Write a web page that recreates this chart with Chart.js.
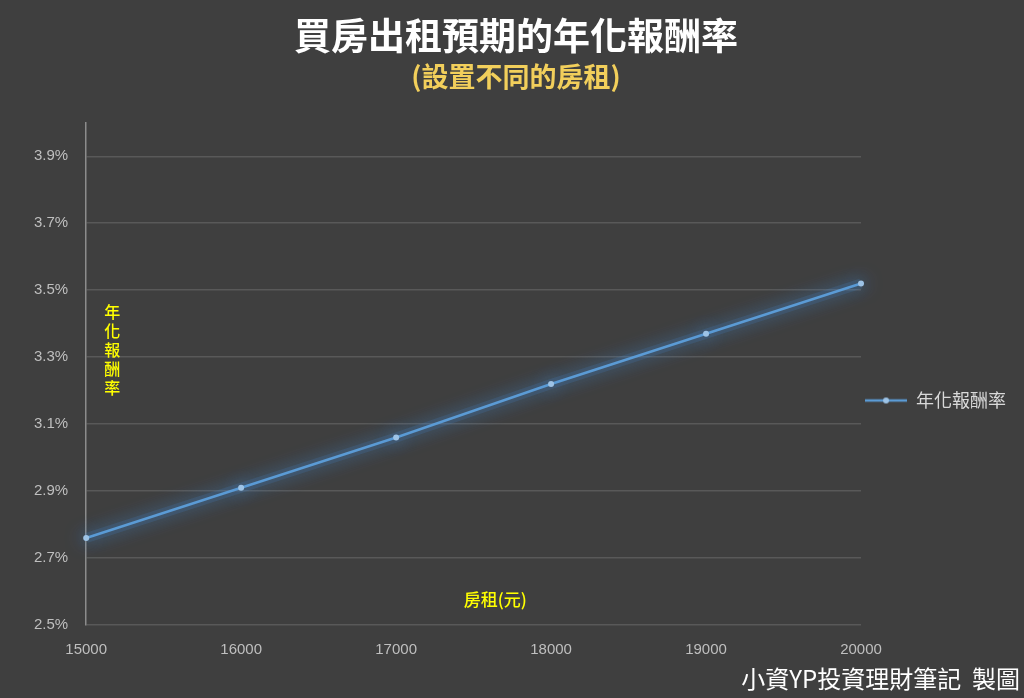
<!DOCTYPE html>
<html lang="zh-Hant">
  <head>
    <meta charset="UTF-8" />
    <title>買房出租預期的年化報酬率</title>
    <script src="https://cdn.jsdelivr.net/npm/chart.js"></script>
    <style>
      html, body { margin: 0; padding: 0; background: #3f3f3f; }
      .Wrap { width: 1024px; height: 698px; position: relative; }
    </style>
  </head>
  <body>
    <div class="Wrap">
      <canvas id="lineChart"></canvas>
    </div>
    <script>
      // rent (NTD) and annual return (%)
      const rents = [15000, 16000, 17000, 18000, 19000, 20000];
      const annualReturn = [2.76, 2.91, 3.06, 3.22, 3.37, 3.52];
      const yTicks = [2.5, 2.7, 2.9, 3.1, 3.3, 3.5, 3.7, 3.9];
      const xTicks = [15000, 16000, 17000, 18000, 19000, 20000];

      const CJK = "'Noto Sans CJK TC', 'Noto Sans', sans-serif";
      const NUM = "'Liberation Sans Narrow', 'Liberation Sans', sans-serif";

      // legend marker: line with a dot in the middle
      const marker = document.createElement("canvas");
      marker.width = 42;
      marker.height = 10;
      const m = marker.getContext("2d");
      m.strokeStyle = "#5b9bd5";
      m.lineWidth = 2.5;
      m.beginPath();
      m.moveTo(0, 5);
      m.lineTo(42, 5);
      m.stroke();
      m.fillStyle = "#9dc3e6";
      m.beginPath();
      m.arc(21, 5, 3, 0, Math.PI * 2);
      m.fill();

      const glow = {
        id: "glow",
        beforeDatasetDraw(chart) {
          const ctx = chart.ctx;
          ctx.save();
          ctx.shadowColor = "rgba(70, 140, 215, 1)";
          ctx.shadowBlur = 18;
        },
        afterDatasetDraw(chart) {
          chart.ctx.restore();
        },
      };

      const labels = {
        id: "labels",
        afterDraw(chart) {
          const ctx = chart.ctx;
          const a = chart.chartArea;
          ctx.save();
          ctx.fillStyle = "#ffff00";
          ctx.font = "500 16px " + CJK;
          ctx.textAlign = "center";
          ctx.textBaseline = "middle";
          // y axis title, stacked vertically
          const yTitle = "年化報酬率";
          for (let i = 0; i < yTitle.length; i++) {
            ctx.fillText(yTitle[i], a.left + 26, a.top + 189 + i * 19);
          }
          // x axis title
          ctx.font = "500 17px " + CJK;
          ctx.fillText("房租(元)", a.left + (a.right - a.left) * 0.528, a.bottom - 25);
          // watermark
          ctx.fillStyle = "#ffffff";
          ctx.font = "24px " + CJK;
          ctx.textAlign = "right";
          ctx.fillText("小資YP投資理財筆記  製圖", 1020, 679);
          ctx.restore();
        },
      };

      const points = rents.map((r, i) => ({ x: r, y: annualReturn[i] }));

      new Chart(document.getElementById("lineChart"), {
        type: "line",
        data: {
          datasets: [
            {
              label: "年化報酬率",
              data: points,
              borderColor: "#5b9bd5",
              borderWidth: 2.5,
              pointRadius: 3,
              pointBackgroundColor: "#9dc3e6",
              pointBorderWidth: 0,
              pointStyle: "circle",
              tension: 0,
              clip: false,
              order: 0,
            },
            {
              // soft halo under the line
              label: "glow",
              data: points,
              borderColor: "rgba(70, 140, 215, 0.16)",
              borderWidth: 10,
              pointRadius: 0,
              tension: 0,
              clip: false,
              order: 1,
            },
          ],
        },
        options: {
          responsive: true,
          maintainAspectRatio: false,
          animation: false,
          layout: { padding: { left: 16, right: 8, top: 0, bottom: 23 } },
          plugins: {
            title: {
              display: true,
              text: "買房出租預期的年化報酬率",
              color: "#ffffff",
              font: { family: CJK, size: 37, weight: "bold" },
              padding: { top: 14, bottom: 2 },
            },
            subtitle: {
              display: true,
              text: "(設置不同的房租)",
              color: "#f2cf5b",
              font: { family: CJK, size: 27, weight: "bold" },
              padding: { top: 0, bottom: 30 },
            },
            legend: {
              position: "right",
              title: {
                display: true,
                text: " ",
                font: { size: 10 },
                padding: { top: 0, bottom: 114 },
              },
              labels: {
                usePointStyle: true,
                pointStyle: marker,
                pointStyleWidth: 42,
                color: "#d9d9d9",
                font: { family: CJK, size: 18 },
                padding: 4,
                generateLabels(chart) {
                  return [
                    {
                      text: chart.data.datasets[0].label,
                      pointStyle: marker,
                      fontColor: "#d9d9d9",
                      datasetIndex: 0,
                    },
                  ];
                },
              },
            },
            tooltip: { enabled: false },
          },
          scales: {
            x: {
              type: "linear",
              min: 15000,
              max: 20000,
              afterBuildTicks: (axis) => {
                axis.ticks = xTicks.map((v) => ({ value: v }));
              },
              grid: { display: false, drawTicks: false },
              border: { display: false },
              ticks: {
                color: "#bfbfbf",
                font: { family: NUM, size: 15 },
                padding: 16,
                maxRotation: 0,
                callback: (v) => String(v),
              },
            },
            y: {
              min: 2.5,
              max: 4.0,
              afterBuildTicks: (axis) => {
                axis.ticks = yTicks.map((v) => ({ value: v }));
              },
              grid: { color: "#595959", lineWidth: 1.5, drawTicks: false },
              border: { display: true, color: "#8c8c8c", width: 1.5 },
              ticks: {
                color: "#bfbfbf",
                font: { family: NUM, size: 15 },
                padding: 18,
                callback: (v) => v.toFixed(1) + "%",
              },
            },
          },
        },
        plugins: [glow, labels],
      });
    </script>
  </body>
</html>
